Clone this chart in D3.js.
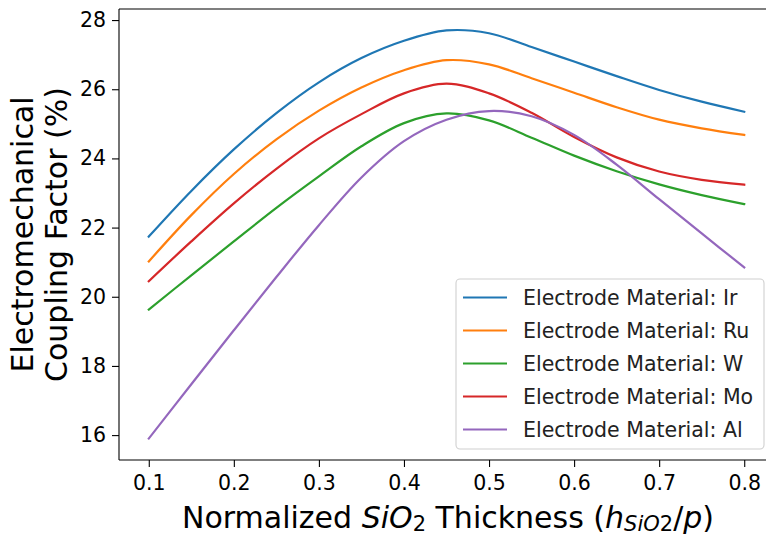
<!DOCTYPE html>
<html>
<head>
<meta charset="utf-8">
<script src="https://cdn.jsdelivr.net/npm/d3@7"></script>
<style>
  html, body { margin: 0; padding: 0; background: #fff; }
  svg { display: block; font-family: "DejaVu Sans", sans-serif; }
</style>
</head>
<body>
<svg id="chart" width="766" height="538"></svg>
<script>
// ---- data ----
const thickness = [0.1, 0.15, 0.2, 0.25, 0.3, 0.35, 0.4, 0.45, 0.5, 0.55, 0.6, 0.65, 0.7, 0.75, 0.8];
const irValues = [21.74, 23.06, 24.26, 25.31, 26.20, 26.90, 27.40, 27.70, 27.62, 27.22, 26.80, 26.38, 25.98, 25.64, 25.35];
const ruValues = [21.02, 22.36, 23.55, 24.55, 25.38, 26.05, 26.55, 26.84, 26.72, 26.32, 25.90, 25.48, 25.12, 24.87, 24.68];
const wValues  = [19.63, 20.62, 21.60, 22.57, 23.48, 24.35, 25.02, 25.30, 25.10, 24.60, 24.08, 23.63, 23.25, 22.94, 22.68];
const moValues = [20.45, 21.60, 22.70, 23.70, 24.58, 25.28, 25.88, 26.16, 25.88, 25.32, 24.62, 24.03, 23.62, 23.38, 23.24];
const alValues = [15.90, 17.47, 19.03, 20.57, 22.07, 23.45, 24.50, 25.12, 25.37, 25.22, 24.68, 23.82, 22.82, 21.83, 20.85];
const seriesNames = ["Electrode Material: Ir", "Electrode Material: Ru", "Electrode Material: W", "Electrode Material: Mo", "Electrode Material: Al"];
const seriesColors = ["#1f77b4", "#ff7f0e", "#2ca02c", "#d62728", "#9467bd"];
const xTicks = [0.1, 0.2, 0.3, 0.4, 0.5, 0.6, 0.7, 0.8];
const yTicks = [16, 18, 20, 22, 24, 26, 28];

const allSeries = [irValues, ruValues, wValues, moValues, alValues];

// ---- layout ----
const plot = { left: 119, top: 9, right: 774, bottom: 460 };
const svg = d3.select("#chart");

const x = d3.scaleLinear().domain([0.065, 0.835]).range([plot.left, plot.right]);
const y = d3.scaleLinear().domain([15.28, 28.32]).range([plot.bottom, plot.top]);

// lines
const line = d3.line()
  .x((d, i) => x(thickness[i]))
  .y(d => y(d))
  .curve(d3.curveCatmullRom.alpha(0.5));

allSeries.forEach((vals, k) => {
  svg.append("path")
    .attr("d", line(vals))
    .attr("fill", "none")
    .attr("stroke", seriesColors[k])
    .attr("stroke-width", 2.2)
    .attr("stroke-linecap", "square");
});

// axes
const tickFont = 20.5;
const xAxis = d3.axisBottom(x).tickValues(xTicks).tickFormat(d3.format(".1f")).tickSize(7).tickPadding(8);
const yAxis = d3.axisLeft(y).tickValues(yTicks).tickFormat(d3.format("d")).tickSize(7).tickPadding(6);

const gx = svg.append("g").attr("transform", `translate(0,${plot.bottom})`).call(xAxis);
const gy = svg.append("g").attr("transform", `translate(${plot.left},0)`).call(yAxis);
[gx, gy].forEach(g => {
  g.select(".domain").remove();
  g.selectAll(".tick line").attr("stroke", "#000").attr("stroke-width", 1.1);
  g.selectAll(".tick text").attr("fill", "#000").style("font-size", tickFont + "px").style("font-family", "DejaVu Sans");
});

// spines
function spine(x1, y1, x2, y2) {
  svg.append("line").attr("x1", x1).attr("y1", y1).attr("x2", x2).attr("y2", y2)
    .attr("stroke", "#000").attr("stroke-width", 1.1);
}
spine(plot.left, plot.top, plot.left, plot.bottom);
spine(plot.left, plot.bottom, plot.right, plot.bottom);
spine(plot.left, plot.top, plot.right, plot.top);
spine(plot.right, plot.top, plot.right, plot.bottom);

// x label with math parts
const labelFont = 30;
const xl = svg.append("text")
  .attr("x", 448).attr("y", 528)
  .attr("text-anchor", "middle")
  .style("font-size", labelFont + "px")
  .attr("fill", "#000");
xl.append("tspan").text("Normalized ");
xl.append("tspan").attr("font-style", "italic").text("SiO");
xl.append("tspan").attr("font-size", "0.7em").attr("dy", "0.15em").text("2");
xl.append("tspan").attr("dy", "-0.105em").text(" Thickness (");
xl.append("tspan").attr("font-style", "italic").text("h");
xl.append("tspan").attr("font-size", "0.7em").attr("dy", "0.15em").attr("font-style", "italic").text("SiO");
xl.append("tspan").attr("font-size", "0.7em").text("2");
xl.append("tspan").attr("dy", "-0.105em").text("/");
xl.append("tspan").attr("font-style", "italic").text("p");
xl.append("tspan").text(")");

// y label (two lines)
const cy = (plot.top + plot.bottom) / 2;
svg.append("text")
  .attr("transform", `translate(33,${cy}) rotate(-90)`)
  .attr("text-anchor", "middle")
  .style("font-size", labelFont + "px")
  .attr("fill", "#000")
  .text("Electromechanical");
svg.append("text")
  .attr("transform", `translate(67,${cy}) rotate(-90)`)
  .attr("text-anchor", "middle")
  .style("font-size", labelFont + "px")
  .attr("fill", "#000")
  .text("Coupling Factor (%)");

// legend
const leg = { x: 456, y: 279, w: 308, h: 170 };
svg.append("rect")
  .attr("x", leg.x).attr("y", leg.y).attr("width", leg.w).attr("height", leg.h)
  .attr("rx", 4).attr("ry", 4)
  .attr("fill", "#fff").attr("fill-opacity", 0.8)
  .attr("stroke", "#d0d0d0").attr("stroke-width", 1.1);

seriesNames.forEach((name, k) => {
  const ly = 297.5 + k * 33;
  svg.append("line")
    .attr("x1", 463).attr("x2", 507)
    .attr("y1", ly).attr("y2", ly)
    .attr("stroke", seriesColors[k]).attr("stroke-width", 2.2);
  svg.append("text")
    .attr("x", 523).attr("y", ly + 7.5)
    .style("font-size", tickFont + "px")
    .attr("fill", "#222")
    .text(name);
});
</script>
</body>
</html>
